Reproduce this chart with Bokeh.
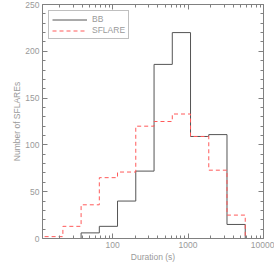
from bokeh.plotting import figure
from bokeh.models import (LogAxis, LinearAxis, FixedTicker, Legend, LegendItem,
                          Range1d)
from bokeh.embed import file_html
from bokeh.resources import INLINE

# histogram bin edges (Duration, s) and counts
bin_edges = [12.59, 21.98, 38.31, 66.8, 116.4, 203.1, 354.8, 618.8,
             1079.4, 1882.9, 3283.5, 5728.0, 10000.0]
bb_counts = [0, 0, 6, 13, 40, 72, 186, 220, 109, 111, 15, 0]
sflare_counts = [2, 13, 36, 65, 71, 120, 125, 133, 109, 73, 25, 0]

x_major = [100, 1000, 10000]
x_labels = {100: "100", 1000: "1000", 10000: "10000"}
x_minor = [m * d for d in (10, 100, 1000) for m in range(2, 10)]
y_major = [0, 50, 100, 150, 200, 250]
y_minor = list(range(0, 251, 10))

FONT = "Liberation Sans"
TXT = "#9a9a9a"
AX = "#808080"

p = figure(width=274, height=264, x_axis_type="log",
           x_range=Range1d(11.8, 10000), y_range=Range1d(0, 250),
           output_backend="svg", toolbar_location=None,
           min_border_left=42, min_border_right=11, min_border_top=4,
           min_border_bottom=24)
p.outline_line_color = None
p.grid.visible = False
p.background_fill_color = "white"
p.border_fill_color = "white"

r_bb = p.step(x=bin_edges, y=bb_counts + [bb_counts[-1]], mode="after",
              line_color="#555555", line_width=1)
r_sf = p.step(x=bin_edges, y=sflare_counts + [sflare_counts[-1]], mode="after",
              line_color="#ff5a5a", line_width=1, line_dash="4 3")

def style(ax, labels=True):
    ax.axis_line_color = AX
    ax.axis_line_width = 1
    ax.major_tick_line_color = AX
    ax.minor_tick_line_color = AX
    ax.major_tick_in = 5
    ax.major_tick_out = 0
    ax.minor_tick_in = 3
    ax.minor_tick_out = 0
    ax.major_label_text_font = FONT
    if labels:
        ax.major_label_text_color = TXT
        ax.major_label_text_font_size = "8.5px"
    else:
        ax.major_label_text_color = None
        ax.major_label_text_font_size = "1px"
    ax.axis_label_text_font = FONT
    ax.axis_label_text_color = TXT
    ax.axis_label_text_font_size = "8.5px"
    ax.axis_label_text_font_style = "normal"

xt = FixedTicker(ticks=x_major, minor_ticks=x_minor)
yt = FixedTicker(ticks=y_major, minor_ticks=y_minor)

xa = p.xaxis[0]
xa.ticker = xt
xa.major_label_overrides = x_labels
xa.axis_label = "Duration (s)"
style(xa)
xa.major_label_standoff = 3
xa.axis_label_standoff = 1

ya = p.yaxis[0]
ya.ticker = yt
ya.axis_label = "Number of SFLAREs"
style(ya)
ya.major_label_standoff = 3
ya.axis_label_standoff = 0

top = LogAxis(ticker=xt)
style(top, labels=False)
top.major_label_standoff = 0
p.add_layout(top, "above")

right = LinearAxis(ticker=yt)
style(right, labels=False)
right.major_label_standoff = 0
p.add_layout(right, "right")

legend = Legend(items=[LegendItem(label="BB", renderers=[r_bb]),
                       LegendItem(label="SFLARE", renderers=[r_sf])],
                location="top_left")
legend.border_line_color = AX
legend.border_line_width = 1
legend.background_fill_alpha = 0
legend.label_text_font = FONT
legend.label_text_color = TXT
legend.label_text_font_size = "8.5px"
legend.glyph_width = 35
legend.glyph_height = 7
legend.label_height = 7
legend.label_standoff = 5
legend.padding = 3
legend.spacing = 1
legend.margin = 6
p.add_layout(legend)

open("out.html", "w").write(file_html(p, INLINE))
